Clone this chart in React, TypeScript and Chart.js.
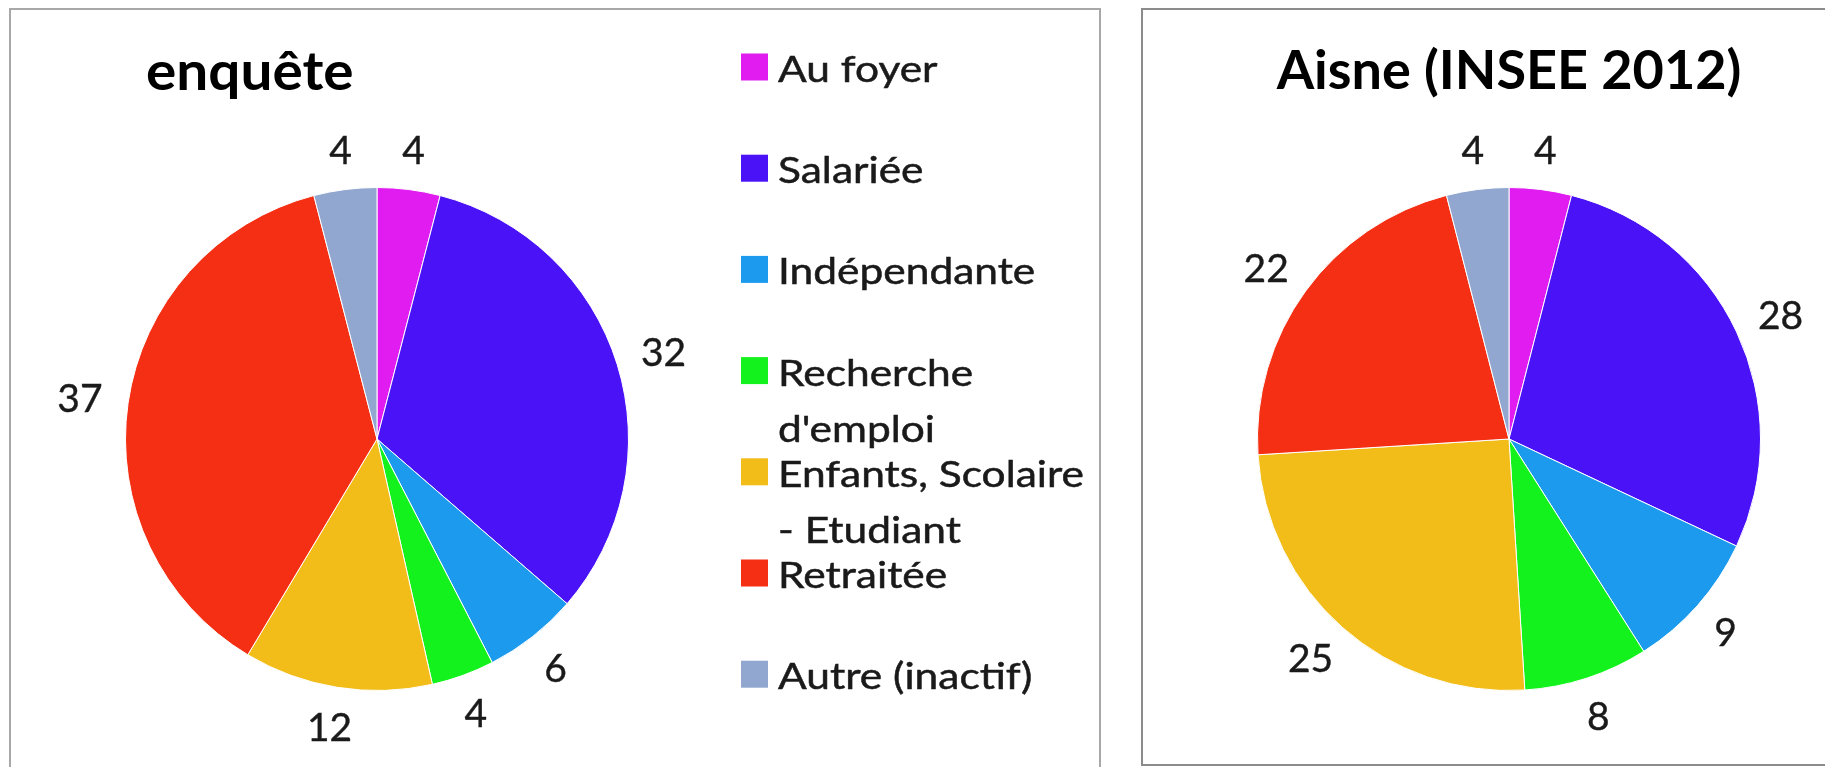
import { useEffect, useRef } from "react";
import { Chart, registerables } from "chart.js";

Chart.register(...registerables);

// ---------- data ----------
const CATEGORIES = [
  "Au foyer",
  "Salariée",
  "Indépendante",
  "Recherche d'emploi",
  "Enfants, Scolaire - Etudiant",
  "Retraitée",
  "Autre (inactif)",
];
const LEGEND_LINES = [
  ["Au foyer"],
  ["Salariée"],
  ["Indépendante"],
  ["Recherche", "d'emploi"],
  ["Enfants, Scolaire", "- Etudiant"],
  ["Retraitée"],
  ["Autre (inactif)"],
];
const ENQUETE_VALUES = [4, 32, 6, 4, 12, 37, 4];
const AISNE_VALUES = [4, 28, 9, 8, 25, 22, 4];
const COLORS = ["#E01CF0", "#4A12F7", "#1C9AEE", "#14F21E", "#F2BD18", "#F42F14", "#91A7CF"];
const TITLE_ENQUETE = "enquête";
const TITLE_AISNE = "Aisne (INSEE 2012)";

const FONT = "Lato, 'Open Sans', sans-serif";

function drawStretched(ctx: CanvasRenderingContext2D, text: string, x: number, y: number, sx: number, stroke = 0) {
  ctx.save();
  ctx.translate(x, y);
  ctx.scale(sx, 1);
  ctx.fillText(text, 0, 0);
  if (stroke > 0) {
    ctx.lineWidth = stroke;
    ctx.strokeStyle = ctx.fillStyle as string;
    ctx.strokeText(text, 0, 0);
  }
  ctx.restore();
}

const decorPlugin = {
  id: "decor",
  afterDatasetsDraw(chart: any, _args: any, opts: any) {
    const ctx: CanvasRenderingContext2D = chart.ctx;
    const meta = chart.getDatasetMeta(0);
    const values = chart.data.datasets[0].data;
    ctx.save();
    ctx.fillStyle = "#1a1a1a";
    // data labels outside the slices (box edge at a fixed gap from the rim)
    ctx.font = `${opts.labelSize}px ${FONT}`;
    ctx.textAlign = "center";
    ctx.textBaseline = "alphabetic";
    const cap = opts.labelSize * 0.72;
    let cx = 0;
    meta.data.forEach((arc: any, i: number) => {
      const p = arc.getProps(["x", "y", "startAngle", "endAngle", "outerRadius"], true);
      cx = p.x;
      const mid = (p.startAngle + p.endAngle) / 2;
      const r = p.outerRadius + opts.labelGap;
      const txt = String(values[i]);
      const halfW = ctx.measureText(txt).width / 2;
      const halfH = cap / 2;
      const dx = Math.cos(mid);
      const dy = Math.sin(mid);
      const x = p.x + dx * r + dx * halfW;
      const y = p.y + dy * r + dy * halfH;
      drawStretched(ctx, txt, x, y + halfH, 1, 0.4);
    });
    // title
    ctx.font = `bold ${opts.titleSize}px ${FONT}`;
    ctx.textBaseline = "alphabetic";
    ctx.fillStyle = "#000";
    if (opts.titleAlign === "center") {
      ctx.textAlign = "center";
      drawStretched(ctx, opts.title, cx, opts.titleY, opts.titleStretch);
    } else {
      ctx.textAlign = "left";
      drawStretched(ctx, opts.title, opts.titleX, opts.titleY, opts.titleStretch);
    }
    // legend
    if (opts.legend) {
      const L = opts.legend;
      ctx.textAlign = "left";
      ctx.textBaseline = "alphabetic";
      ctx.font = `${L.fontSize}px ${FONT}`;
      LEGEND_LINES.forEach((lines, i) => {
        const cy = L.y0 + i * L.step;
        ctx.fillStyle = chart.data.datasets[0].backgroundColor[i];
        ctx.fillRect(L.x0, cy - L.box / 2, L.box, L.box);
        ctx.fillStyle = "#1a1a1a";
        lines.forEach((line, j) => {
          drawStretched(ctx, line, L.x0 + L.box + L.gap, cy + L.baseOff + j * L.lineH, L.stretch, 0.5);
        });
      });
    }
    ctx.restore();
  },
};

function PieChart(props: {
  values: number[];
  width: number;
  height: number;
  left: number;
  padding: { left: number; right: number; top: number; bottom: number };
  decor: any;
}) {
  const ref = useRef<HTMLCanvasElement | null>(null);
  useEffect(() => {
    if (!ref.current) return;
    const chart = new Chart(ref.current, {
      type: "pie",
      data: {
        labels: CATEGORIES,
        datasets: [
          {
            data: props.values,
            backgroundColor: COLORS,
            borderColor: "#ffffff",
            borderWidth: 1,
          },
        ],
      },
      options: {
        responsive: false,
        animation: false,
        layout: { padding: props.padding },
        plugins: {
          legend: { display: false },
          title: { display: false },
          tooltip: { enabled: false },
          decor: props.decor,
        } as any,
      },
      plugins: [decorPlugin],
    });
    return () => chart.destroy();
  }, []);
  return (
    <canvas
      ref={ref}
      width={props.width}
      height={props.height}
      style={{ position: "absolute", left: props.left, top: 0, width: props.width, height: props.height }}
    />
  );
}

const LEGEND_LAYOUT = {
  x0: 741,
  y0: 67,
  step: 101.2,
  box: 27,
  gap: 10,
  baseOff: 15,
  lineH: 56,
  fontSize: 36,
  stretch: 1.18,
};

export default function App() {
  return (
    <div
      style={{
        position: "fixed",
        left: 0,
        top: 0,
        width: 1825,
        height: 767,
        overflow: "hidden",
        background: "#fff",
      }}
    >
      <div
        style={{
          position: "absolute",
          left: 9,
          top: 8,
          width: 1092,
          height: 800,
          border: "2px solid #a8a8a8",
          boxSizing: "border-box",
        }}
      />
      <div
        style={{
          position: "absolute",
          left: 1141,
          top: 8,
          width: 760,
          height: 758,
          border: "2px solid #8c8c8c",
          boxSizing: "border-box",
        }}
      />
      <PieChart
        values={ENQUETE_VALUES}
        width={1120}
        height={767}
        left={0}
        padding={{ left: 125, right: 491, top: 187, bottom: 76 }}
        decor={{
          labelSize: 39,
          labelGap: 26,
          title: TITLE_ENQUETE,
          titleSize: 54,
          titleAlign: "left",
          titleX: 146,
          titleY: 90,
          titleStretch: 1.05,
          legend: LEGEND_LAYOUT,
        }}
      />
      <PieChart
        values={AISNE_VALUES}
        width={705}
        height={767}
        left={1120}
        padding={{ left: 137, right: 64, top: 187, bottom: 76 }}
        decor={{
          labelSize: 39,
          labelGap: 26,
          title: TITLE_AISNE,
          titleSize: 54,
          titleAlign: "center",
          titleY: 89,
          titleStretch: 1.0,
          legend: null,
        }}
      />
    </div>
  );
}
